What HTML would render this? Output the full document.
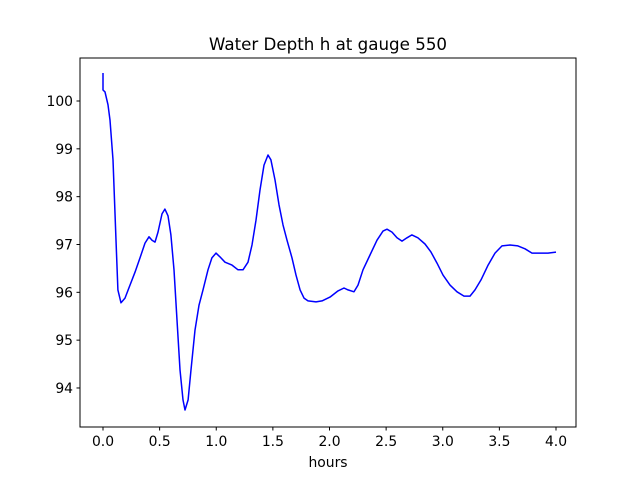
<!DOCTYPE html>
<html><head><meta charset="utf-8"><style>
body{margin:0;background:#fff}
svg{font-family:"DejaVu Sans","Liberation Sans",sans-serif}
</style></head><body>
<svg id="c" width="640" height="480" xmlns="http://www.w3.org/2000/svg"></svg>
<script>
const hours=[0,0,0.018,0.044,0.062,0.088,0.115,0.132,0.159,0.194,0.238,0.283,0.327,0.371,0.406,0.433,0.459,0.486,0.521,0.547,0.574,0.600,0.627,0.653,0.680,0.706,0.724,0.751,0.777,0.812,0.848,0.883,0.927,0.962,0.998,1.033,1.077,1.139,1.192,1.236,1.280,1.316,1.351,1.386,1.422,1.457,1.483,1.519,1.554,1.589,1.625,1.669,1.704,1.740,1.775,1.810,1.881,1.934,2.004,2.075,2.128,2.163,2.216,2.252,2.296,2.358,2.419,2.472,2.508,2.552,2.596,2.640,2.684,2.728,2.781,2.843,2.896,2.949,3.002,3.064,3.126,3.188,3.241,3.285,3.338,3.400,3.461,3.523,3.594,3.664,3.726,3.788,3.859,3.929,4.0];
const depth=[100.585,100.23,100.19,99.92,99.60,98.77,97.09,96.05,95.78,95.88,96.15,96.42,96.72,97.03,97.16,97.09,97.05,97.26,97.64,97.74,97.60,97.20,96.47,95.42,94.38,93.75,93.54,93.75,94.38,95.21,95.73,96.05,96.47,96.72,96.82,96.74,96.63,96.57,96.47,96.47,96.63,96.99,97.51,98.14,98.66,98.87,98.77,98.35,97.83,97.41,97.09,96.72,96.36,96.05,95.88,95.82,95.80,95.82,95.90,96.03,96.09,96.05,96.01,96.15,96.47,96.78,97.09,97.28,97.32,97.26,97.14,97.07,97.14,97.20,97.14,97.01,96.84,96.61,96.36,96.15,96.01,95.92,95.92,96.05,96.26,96.57,96.82,96.97,96.99,96.97,96.91,96.82,96.82,96.82,96.84];
const xTicks=[0,0.5,1,1.5,2,2.5,3,3.5,4];
const xTickLabels=["0.0","0.5","1.0","1.5","2.0","2.5","3.0","3.5","4.0"];
const yTicks=[94,95,96,97,98,99,100];
const yTickLabels=["94","95","96","97","98","99","100"];
const L=80,R=576,T=58,B=427;
const sx=v=>103+v*113.25;
const sy=v=>101+(100-v)*47.83;
const svg=document.getElementById('c');
const NS="http://www.w3.org/2000/svg";
function mk(tag,attrs,text){const e=document.createElementNS(NS,tag);for(const k in attrs)e.setAttribute(k,attrs[k]);if(text!==undefined)e.textContent=text;svg.appendChild(e);return e;}
const line=mk('polyline',{points:hours.map((h,i)=>sx(h).toFixed(1)+','+sy(depth[i]).toFixed(1)).join(' '),fill:'none',stroke:'#0000ff','stroke-width':1.5,'stroke-linejoin':'round'});


const fr=mk('rect',{x:L,y:T,width:R-L,height:B-T,fill:'none',stroke:'#000','stroke-width':1});


xTicks.forEach((t,i)=>{const x=sx(t);
 const tk=mk('line',{x1:x,x2:x,y1:B,y2:B+3.5,stroke:'#000'});
 
 
 const lb=mk('text',{x:x,y:B+19,'text-anchor':'middle','font-size':13.9},xTickLabels[i]);
 
 
});
yTicks.forEach((t,i)=>{const y=sy(t);
 const tk=mk('line',{x1:L-3.5,x2:L,y1:y,y2:y,stroke:'#000'});
 
 
 const lb=mk('text',{x:L-7,y:y+5,'text-anchor':'end','font-size':13.9},yTickLabels[i]);
 
 
});
const ti=mk('text',{x:328,y:50,'text-anchor':'middle','font-size':16.7},'Water Depth h at gauge 550');


const xl=mk('text',{x:328,y:467,'text-anchor':'middle','font-size':13.9},'hours');


</script>
</body></html>
